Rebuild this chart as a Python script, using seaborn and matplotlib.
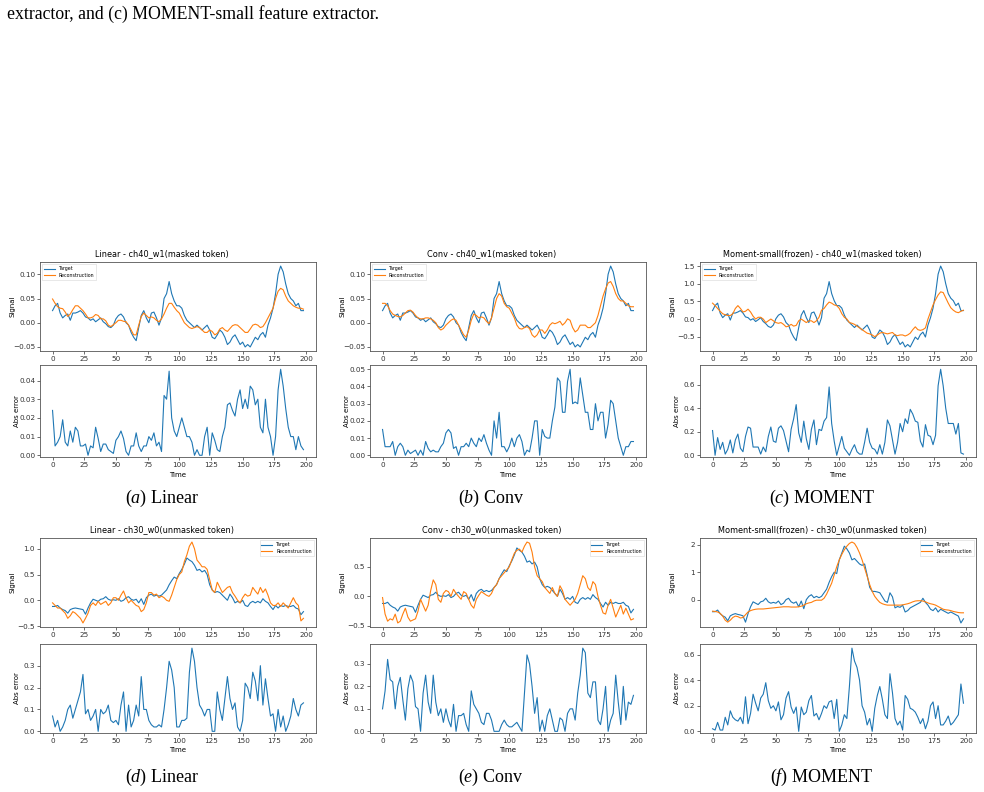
import numpy as np
import pandas as pd
import matplotlib
matplotlib.use("Agg")
import matplotlib.pyplot as plt
import seaborn as sns

TIME = list(range(0, 200, 2))

CH40_TARGET = [
    0.025, 0.035, 0.040, 0.020, 0.010, 0.015, 0.018, 0.005, 0.020, 0.020,
    0.022, 0.025, 0.020, 0.012, 0.010, 0.005, 0.008, 0.002, 0.006, 0.010,
    0.002, -0.002, -0.008, -0.010, -0.005, 0.008, 0.015, 0.018, 0.012, 0.000,
    -0.005, -0.020, -0.030, -0.037, -0.010, 0.015, 0.025, 0.010, 0.000, 0.020,
    0.022, 0.010, -0.005, 0.010, 0.050, 0.060, 0.085, 0.060, 0.045, 0.035,
    0.035, 0.030, 0.015, 0.005, 0.000, -0.005, -0.010, -0.005, -0.010, -0.015,
    -0.010, -0.005, -0.015, -0.030, -0.033, -0.025, -0.015, -0.020, -0.030, -0.045,
    -0.040, -0.030, -0.025, -0.035, -0.045, -0.040, -0.050, -0.045, -0.050, -0.040,
    -0.030, -0.035, -0.025, -0.020, -0.030, -0.005, 0.010, 0.030, 0.060, 0.100,
    0.117, 0.105, 0.080, 0.060, 0.050, 0.045, 0.035, 0.040, 0.025, 0.025]

LINEAR_CH40_RECON = [
    0.049, 0.040, 0.033, 0.030, 0.029, 0.022, 0.013, 0.018, 0.027, 0.035,
    0.035, 0.030, 0.025, 0.018, 0.010, 0.010, 0.012, 0.017, 0.015, 0.008,
    0.008, 0.004, -0.005, -0.008, -0.004, 0.000, 0.005, 0.005, 0.003, 0.002,
    -0.005, -0.015, -0.025, -0.025, -0.005, 0.013, 0.020, 0.015, 0.010, 0.012,
    0.010, 0.005, 0.002, 0.008, 0.018, 0.030, 0.040, 0.040, 0.032, 0.025,
    0.020, 0.010, 0.000, -0.005, -0.010, -0.012, -0.010, -0.008, -0.010, -0.015,
    -0.020, -0.020, -0.015, -0.018, -0.025, -0.022, -0.013, -0.010, -0.015, -0.018,
    -0.012, -0.006, -0.004, -0.005, -0.010, -0.015, -0.020, -0.020, -0.013, -0.005,
    -0.003, -0.005, -0.010, -0.008, 0.000, 0.010, 0.020, 0.030, 0.050, 0.065,
    0.071, 0.068, 0.055, 0.045, 0.040, 0.035, 0.032, 0.030, 0.030, 0.028]

CONV_CH40_RECON = [
    0.040, 0.040, 0.035, 0.025, 0.018, 0.015, 0.013, 0.012, 0.015, 0.020,
    0.025, 0.026, 0.022, 0.015, 0.010, 0.008, 0.008, 0.010, 0.010, 0.008,
    0.005, 0.000, -0.010, -0.015, -0.012, -0.005, 0.000, 0.005, 0.008, 0.005,
    -0.005, -0.015, -0.025, -0.030, -0.015, 0.005, 0.018, 0.015, 0.010, 0.012,
    0.010, 0.003, -0.002, 0.010, 0.030, 0.050, 0.060, 0.055, 0.040, 0.033,
    0.030, 0.020, 0.010, -0.005, -0.012, -0.013, -0.010, -0.008, -0.012, -0.025,
    -0.030, -0.025, -0.015, -0.015, -0.022, -0.015, -0.005, 0.000, -0.002, 0.000,
    0.003, -0.005, 0.000, 0.008, 0.005, -0.010, -0.019, -0.015, -0.005, -0.005,
    -0.005, -0.010, -0.010, -0.005, 0.000, 0.015, 0.035, 0.055, 0.070, 0.082,
    0.085, 0.075, 0.060, 0.050, 0.045, 0.045, 0.040, 0.035, 0.033, 0.033]

MOMENT_CH40_TARGET = [
    0.24, 0.38, 0.45, 0.17, 0.04, 0.11, 0.15, -0.03, 0.17, 0.17,
    0.20, 0.24, 0.17, 0.06, 0.04, -0.03, 0.01, -0.07, -0.02, 0.04,
    -0.07, -0.13, -0.21, -0.24, -0.17, 0.01, 0.11, 0.15, 0.06, -0.10,
    -0.17, -0.37, -0.51, -0.61, -0.24, 0.11, 0.24, 0.04, -0.10, 0.17,
    0.20, 0.04, -0.17, 0.04, 0.59, 0.72, 1.06, 0.72, 0.52, 0.38,
    0.38, 0.31, 0.11, -0.03, -0.10, -0.17, -0.24, -0.17, -0.24, -0.31,
    -0.24, -0.17, -0.31, -0.51, -0.55, -0.44, -0.31, -0.37, -0.51, -0.72,
    -0.65, -0.51, -0.44, -0.58, -0.72, -0.65, -0.79, -0.72, -0.79, -0.65,
    -0.51, -0.58, -0.44, -0.37, -0.51, -0.17, 0.04, 0.31, 0.72, 1.27,
    1.50, 1.34, 1.00, 0.72, 0.59, 0.52, 0.38, 0.45, 0.24, 0.24]

MOMENT_CH40_RECON = [
    0.45, 0.38, 0.30, 0.22, 0.15, 0.12, 0.10, 0.10, 0.15, 0.30,
    0.38, 0.30, 0.20, 0.22, 0.28, 0.20, 0.08, 0.00, 0.05, 0.05,
    0.00, -0.10, -0.05, 0.00, -0.05, -0.10, -0.12, -0.10, -0.15, -0.22,
    -0.20, -0.15, -0.20, -0.18, -0.05, 0.00, -0.05, -0.10, -0.05, -0.05,
    -0.10, -0.05, 0.05, 0.25, 0.30, 0.40, 0.48, 0.45, 0.40, 0.38,
    0.30, 0.15, 0.05, 0.00, -0.10, -0.12, -0.15, -0.20, -0.25, -0.30,
    -0.35, -0.40, -0.42, -0.45, -0.50, -0.45, -0.40, -0.38, -0.40, -0.42,
    -0.40, -0.38, -0.45, -0.47, -0.45, -0.45, -0.48, -0.45, -0.40, -0.30,
    -0.22, -0.30, -0.32, -0.30, -0.25, 0.00, 0.20, 0.40, 0.55, 0.68,
    0.77, 0.75, 0.60, 0.45, 0.32, 0.25, 0.20, 0.18, 0.22, 0.25]

CH30_TARGET = [
    -0.12, -0.12, -0.10, -0.15, -0.18, -0.20, -0.25, -0.18, -0.16, -0.15,
    -0.16, -0.17, -0.18, -0.27, -0.15, -0.05, 0.02, 0.00, -0.02, 0.02,
    0.03, 0.07, 0.02, 0.00, 0.01, 0.00, 0.03, -0.02, 0.00, 0.05,
    0.07, 0.02, 0.00, 0.02, -0.05, 0.03, -0.08, 0.05, 0.10, 0.12,
    0.08, 0.10, 0.08, 0.10, 0.15, 0.20, 0.30, 0.38, 0.45, 0.42,
    0.52, 0.60, 0.70, 0.82, 0.78, 0.75, 0.68, 0.58, 0.60, 0.55,
    0.58, 0.50, 0.30, 0.20, 0.15, 0.17, 0.15, 0.10, 0.05, 0.00,
    0.12, 0.05, -0.05, -0.02, -0.05, 0.00, -0.10, -0.12, -0.05, -0.02,
    -0.05, -0.02, -0.05, 0.03, -0.02, -0.05, -0.12, -0.18, -0.10, -0.15,
    -0.10, -0.12, -0.10, -0.12, -0.12, -0.10, -0.15, -0.17, -0.28, -0.22]

LINEAR_CH30_RECON = [
    -0.05, -0.10, -0.15, -0.15, -0.20, -0.25, -0.35, -0.30, -0.22, -0.25,
    -0.30, -0.35, -0.44, -0.35, -0.25, -0.10, -0.05, -0.10, -0.02, -0.08,
    -0.05, -0.02, -0.10, -0.05, 0.05, 0.05, 0.00, 0.10, 0.18, 0.05,
    -0.05, 0.00, -0.05, -0.10, -0.12, -0.22, -0.18, -0.05, 0.15, 0.15,
    0.10, 0.12, 0.05, 0.08, 0.05, 0.00, -0.02, 0.10, 0.25, 0.40,
    0.50, 0.55, 0.75, 0.88, 1.05, 1.13, 1.00, 0.78, 0.72, 0.65,
    0.65, 0.60, 0.40, 0.20, 0.15, 0.35, 0.25, 0.15, 0.20, 0.25,
    0.27, 0.15, 0.08, 0.00, -0.05, 0.05, 0.12, 0.08, 0.10, 0.25,
    0.18, 0.12, 0.25, 0.15, 0.22, 0.10, -0.05, -0.10, -0.10, -0.05,
    -0.12, -0.05, -0.10, -0.15, -0.05, 0.05, -0.05, -0.10, -0.40, -0.35]

CONV_CH30_RECON = [
    -0.02, -0.30, -0.42, -0.38, -0.40, -0.30, -0.45, -0.42, -0.30, -0.20,
    -0.35, -0.42, -0.40, -0.38, -0.25, -0.05, -0.15, -0.25, -0.15, 0.10,
    0.28, 0.20, -0.05, -0.10, 0.05, 0.10, 0.08, 0.00, 0.12, 0.05,
    0.00, -0.05, 0.08, 0.05, -0.05, -0.15, -0.20, -0.05, 0.02, 0.08,
    0.05, 0.02, 0.00, 0.05, 0.15, 0.20, 0.30, 0.35, 0.40, 0.45,
    0.50, 0.62, 0.73, 0.78, 0.80, 0.75, 0.85, 0.92, 0.90, 0.75,
    0.50, 0.35, 0.30, 0.25, 0.15, 0.10, 0.05, 0.15, 0.05, 0.00,
    0.18, 0.10, -0.05, -0.10, -0.15, -0.10, -0.05, 0.05, 0.20, 0.35,
    0.30, 0.15, 0.10, 0.25, 0.20, 0.00, -0.15, -0.28, -0.30, -0.15,
    -0.05, -0.20, -0.35, -0.25, -0.15, -0.30, -0.20, -0.30, -0.40, -0.38]

MOMENT_CH30_TARGET = [
    -0.44, -0.44, -0.38, -0.51, -0.59, -0.64, -0.77, -0.59, -0.54, -0.51,
    -0.54, -0.56, -0.59, -0.82, -0.51, -0.26, -0.08, -0.13, -0.18, -0.08,
    -0.05, 0.05, -0.08, -0.13, -0.10, -0.13, -0.05, -0.18, -0.13, 0.00,
    0.05, -0.08, -0.13, -0.08, -0.26, -0.05, -0.33, 0.00, 0.12, 0.18,
    0.07, 0.12, 0.07, 0.12, 0.25, 0.38, 0.63, 0.84, 1.00, 0.95,
    1.45, 1.70, 1.95, 1.85, 1.70, 1.45, 1.50, 1.40, 1.30, 1.25,
    1.30, 0.90, 0.45, 0.30, 0.30, 0.28, 0.25, 0.10, -0.05, -0.10,
    0.25, 0.10, -0.30, -0.25, -0.28, -0.20, -0.45, -0.40, -0.30, -0.25,
    -0.20, -0.15, -0.10, 0.05, -0.10, -0.20, -0.35, -0.40, -0.30, -0.45,
    -0.35, -0.40, -0.45, -0.50, -0.45, -0.50, -0.55, -0.60, -0.85, -0.70]

MOMENT_CH30_RECON = [
    -0.42, -0.43, -0.45, -0.50, -0.60, -0.75, -0.82, -0.75, -0.65, -0.60,
    -0.62, -0.67, -0.65, -0.55, -0.45, -0.40, -0.37, -0.35, -0.34, -0.34,
    -0.34, -0.33, -0.32, -0.31, -0.30, -0.29, -0.28, -0.27, -0.26, -0.26,
    -0.26, -0.27, -0.27, -0.27, -0.26, -0.24, -0.20, -0.15, -0.12, -0.10,
    -0.05, -0.02, -0.02, -0.02, 0.05, 0.20, 0.40, 0.60, 0.90, 1.20,
    1.45, 1.65, 1.82, 1.95, 2.05, 2.10, 2.05, 1.90, 1.70, 1.45,
    1.15, 0.85, 0.55, 0.30, 0.12, 0.00, -0.10, -0.15, -0.18, -0.20,
    -0.20, -0.20, -0.20, -0.20, -0.20, -0.19, -0.17, -0.15, -0.12, -0.08,
    -0.05, -0.04, -0.04, -0.05, -0.08, -0.12, -0.15, -0.17, -0.20, -0.25,
    -0.30, -0.35, -0.37, -0.38, -0.40, -0.43, -0.45, -0.47, -0.48, -0.48]

TITLES = [
    "Linear - ch40_w1(masked token)",
    "Conv - ch40_w1(masked token)",
    "Moment-small(frozen) - ch40_w1(masked token)",
    "Linear - ch30_w0(unmasked token)",
    "Conv - ch30_w0(unmasked token)",
    "Moment-small(frozen) - ch30_w0(unmasked token)",
]
LETTERS = ["a", "b", "c", "d", "e", "f"]
NAMES = ["Linear", "Conv", "MOMENT", "Linear", "Conv", "MOMENT"]
TARGETS = [CH40_TARGET, CH40_TARGET, MOMENT_CH40_TARGET,
           CH30_TARGET, CH30_TARGET, MOMENT_CH30_TARGET]
RECONS = [LINEAR_CH40_RECON, CONV_CH40_RECON, MOMENT_CH40_RECON,
          LINEAR_CH30_RECON, CONV_CH30_RECON, MOMENT_CH30_RECON]
TOP_TEXT = "extractor, and (c) MOMENT-small feature extractor."

BLUE = "#1f77b4"
ORANGE = "#ff7f0e"

plt.rcParams["font.family"] = ["DejaVu Sans"]
plt.rcParams["mathtext.fontset"] = "custom"
plt.rcParams["mathtext.rm"] = "Liberation Serif"
plt.rcParams["mathtext.it"] = "Liberation Serif:italic"

W, H = 984, 792
fig = plt.figure(figsize=(W / 100, H / 100), dpi=100)
fig.patch.set_facecolor("white")


def add_ax(left, top, width, height):
    return fig.add_axes([left / W, 1 - (top + height) / H, width / W, height / H])


def style_ax(ax):
    for sp in ax.spines.values():
        sp.set_linewidth(0.6)
        sp.set_color("#555555")
    ax.tick_params(labelsize=5.2, length=2, width=0.5, pad=1.5,
                   colors="#333333")


COL_X = [0, 330, 660]
ROWS = [
    dict(sig_top=262, sig_bot=351, err_top=365, err_bot=457, cap=498, loc="upper left"),
    dict(sig_top=538, sig_bot=627, err_top=644, err_bot=733, cap=777, loc="upper right"),
]
CAP_X = [162, 491, 822]
AX_LEFT = 40
AX_WIDTH = 276
TITLE_X = (162 - AX_LEFT) / AX_WIDTH

fig.text(7 / W, 1 - 14 / H, TOP_TEXT, family="Liberation Serif", fontsize=12.8,
         va="center", ha="left")

for i in range(6):
    r, c = divmod(i, 3)
    geo = ROWS[r]
    left = COL_X[c] + AX_LEFT
    tgt = np.array(TARGETS[i])
    rec = np.array(RECONS[i])
    df = pd.DataFrame({"Time": TIME, "Target": tgt, "Reconstruction": rec,
                       "err": np.abs(tgt - rec)})

    ax1 = add_ax(left, geo["sig_top"], AX_WIDTH, geo["sig_bot"] - geo["sig_top"])
    sns.lineplot(data=df, x="Time", y="Target", ax=ax1, color=BLUE,
                 linewidth=0.8, label="Target")
    sns.lineplot(data=df, x="Time", y="Reconstruction", ax=ax1, color=ORANGE,
                 linewidth=0.8, label="Reconstruction")
    ax1.set_title(TITLES[i], fontsize=5.9, pad=4, x=TITLE_X)
    ax1.set_xlabel("")
    ax1.set_ylabel("Signal", fontsize=5.0)
    ax1.yaxis.set_label_coords(-0.09, 0.5)
    ax1.set_xticks([0, 25, 50, 75, 100, 125, 150, 175, 200])
    style_ax(ax1)
    leg = ax1.legend(loc=geo["loc"], fontsize=3.4, handlelength=2.3,
                     borderpad=0.4, labelspacing=0.3, handletextpad=0.8,
                     fancybox=False)
    leg.get_frame().set_linewidth(0.4)
    leg.get_frame().set_edgecolor("#cccccc")

    ax2 = add_ax(left, geo["err_top"], AX_WIDTH, geo["err_bot"] - geo["err_top"])
    sns.lineplot(data=df, x="Time", y="err", ax=ax2, color=BLUE, linewidth=0.8)
    ax2.set_xlabel("Time", fontsize=5.0)
    ax2.set_ylabel("Abs error", fontsize=5.0)
    ax2.yaxis.set_label_coords(-0.074, 0.5)
    ax2.xaxis.set_label_coords(0.5, -0.16)
    ax2.set_xticks([0, 25, 50, 75, 100, 125, 150, 175, 200])
    ax2.set_ylim(bottom=-0.02 * df["err"].max())
    style_ax(ax2)

    fig.text(CAP_X[c] / W, 1 - geo["cap"] / H,
             r"$\mathit{(" + LETTERS[i] + r")}$ " + NAMES[i],
             family="Liberation Serif", fontsize=13, ha="center", va="center")

fig.savefig("out.png", dpi=100, facecolor="white")
